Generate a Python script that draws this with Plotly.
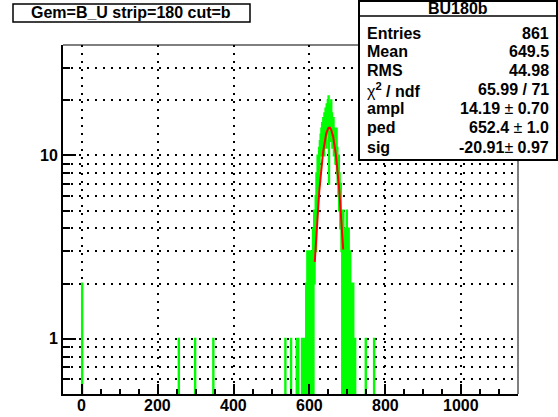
import numpy as np
import plotly.graph_objects as go

# ---- histogram BU180b: 1200 bins of width 1 on [-50, 1150) ----
hist_lo, hist_hi = -50, 1150

# isolated entries away from the peak (bin low edge -> count)
sparse_bins = [0, 255, 298, 346, 536, 551, 566, 570, 580, 582, 748, 770]
sparse_counts = [2, 1, 1, 1, 1, 1, 1, 1, 1, 1, 1, 1]

# consecutive bin contents of the signal peak, starting at bin 584
peak_start = 584
peak_counts = [
    1, 0, 1, 0, 1, 1, 0, 2, 0, 1, 3, 0, 1, 2, 0, 1,          # 584-599
    3, 0, 2, 1, 3, 0, 2, 3, 1, 4, 0, 3, 5, 2, 4, 3,          # 600-615
    6, 3, 8, 5, 7, 10, 6, 9, 8, 11, 7, 12, 10, 13, 11, 14,   # 616-631
    10, 15, 12, 11, 16, 13, 10, 17, 14, 12, 18, 15, 11, 19, 16, 13,  # 632-647
    20, 17, 21, 7, 19, 14, 18, 12, 16, 20, 13, 17, 11, 15, 12, 16,   # 648-663
    10, 14, 11, 13, 9, 12, 10, 14, 8, 11, 7, 9, 6, 10, 5, 8,  # 664-679
    6, 4, 7, 5, 3, 5, 0, 4, 2, 5, 1, 3, 0, 4, 2, 0,          # 680-695
    3, 1, 5, 0, 2, 3, 0, 4, 1, 2, 0, 3, 1, 0, 2, 1,          # 696-711
    0, 1, 0, 2, 0, 1, 0, 0, 1,                               # 712-720
]

# gaussian fit result
fit_ampl, fit_ped, fit_sig = 14.19, 652.4, -20.91
fit_lo, fit_hi = 614, 689

# axis labelling
x_ticks = [0, 200, 400, 600, 800, 1000]
y_ticks = [1, 10]
y_minor = [0.6, 0.7, 0.8, 0.9, 2, 3, 4, 5, 6, 7, 8, 9, 20, 30]

# title and statistics box
title_text = "Gem=B_U strip=180 cut=b"
stats_name = "BU180b"
stats_labels = ["Entries", "Mean", "RMS", "χ<sup>2</sup> / ndf", "ampl", "ped", "sig"]
stats_values = ["861", "649.5", "44.98", "65.99 / 71",
                "14.19 ± 0.70", "652.4 ± 1.0", "-20.91± 0.97"]

# ---- build the bin array ----
nbins = hist_hi - hist_lo
counts = np.zeros(nbins)
for b, c in zip(sparse_bins, sparse_counts):
    counts[b - hist_lo] = c
for i, c in enumerate(peak_counts):
    counts[peak_start + i - hist_lo] = c

edges = np.arange(hist_lo, hist_hi + 1)
# empty bins sit below the visible log range so their edges run off the frame
y_draw = np.where(counts > 0, counts, 0.05)
x_step = edges
y_step = np.append(y_draw, y_draw[-1])

fx_fit = np.linspace(fit_lo, fit_hi, 200)
fy_fit = fit_ampl * np.exp(-0.5 * ((fx_fit - fit_ped) / fit_sig) ** 2)

FONT = "Liberation Sans"
GREEN = "#00ff00"

fig = go.Figure()
fig.add_trace(go.Scatter(
    x=x_step, y=y_step, mode="lines",
    line=dict(color=GREEN, width=2, shape="hv", simplify=False),
    hoverinfo="skip", showlegend=False,
))
fig.add_trace(go.Scatter(
    x=fx_fit, y=fy_fit, mode="lines",
    line=dict(color="#ff0000", width=2),
    hoverinfo="skip", showlegend=False,
))

# plot frame in pixels
L, R, T, B = 63, 518, 45, 394
PW, PH = R - L, B - T


def px_x(p):
    return (p - L) / PW


def px_y(p):
    return (B - p) / PH


grid_dash = "2px,6px"
fig.update_xaxes(
    range=[hist_lo, hist_hi], automargin=False,
    tickmode="array", tickvals=x_ticks, showticklabels=False,
    ticks="inside", ticklen=10, tickwidth=1.5, tickcolor="black",
    minor=dict(dtick=50, tick0=0, ticks="inside", ticklen=5, tickwidth=1.5,
               tickcolor="black", showgrid=False),
    showgrid=True, gridcolor="black", gridwidth=1.6, griddash=grid_dash,
    showline=True, linecolor="black", linewidth=2,
    zeroline=False,
)
fig.update_yaxes(
    type="log", range=[np.log10(0.5), np.log10(40)], automargin=False,
    tickmode="array", tickvals=y_ticks, ticktext=[str(v) for v in y_ticks],
    ticks="inside", ticklen=13, tickwidth=1.5, tickcolor="black",
    minor=dict(tickmode="array", tickvals=y_minor, ticks="inside", ticklen=7,
               tickwidth=1.5, tickcolor="black", showgrid=True,
               gridcolor="black", gridwidth=1.6, griddash=grid_dash),
    showgrid=True, gridcolor="black", gridwidth=1.6, griddash=grid_dash,
    showline=True, linecolor="black", linewidth=2,
    zeroline=False,
    tickfont=dict(family=FONT, size=16, color="black", weight="bold"),
)

shapes = [
    # thin top and right frame edges
    dict(type="line", xref="paper", yref="paper", x0=0, x1=1, y0=1, y1=1,
         line=dict(color="black", width=1)),
    dict(type="line", xref="paper", yref="paper", x0=1, x1=1, y0=0, y1=1,
         line=dict(color="black", width=1)),
    # title box
    dict(type="rect", xref="paper", yref="paper",
         x0=px_x(13), x1=px_x(250), y0=px_y(22), y1=px_y(4),
         line=dict(color="black", width=1.5), fillcolor="white", layer="above"),
    # statistics box
    dict(type="rect", xref="paper", yref="paper",
         x0=px_x(359), x1=px_x(557), y0=px_y(160), y1=px_y(1),
         line=dict(color="black", width=2), fillcolor="white", layer="above"),
    dict(type="line", xref="paper", yref="paper",
         x0=px_x(359), x1=px_x(557), y0=px_y(16), y1=px_y(16),
         line=dict(color="black", width=1.5), layer="above"),
]

annotations = [
    dict(text=f"<b>{title_text}</b>", xref="paper", yref="paper",
         x=px_x(131), y=px_y(13), xanchor="center", yanchor="middle",
         showarrow=False, font=dict(family=FONT, size=16, color="black")),
    dict(text=f"<b>{stats_name}</b>", xref="paper", yref="paper",
         x=px_x(458), y=px_y(9), xanchor="center", yanchor="middle",
         showarrow=False, font=dict(family=FONT, size=16, color="black")),
]
# x tick labels placed just under the axis
for v in x_ticks:
    annotations.append(dict(text=f"<b>{v}</b>", xref="x", yref="paper",
                            x=v, y=px_y(405), xanchor="center", yanchor="middle",
                            showarrow=False,
                            font=dict(family=FONT, size=16, color="black")))

row_y0, row_dy = 33, 19
for i, (lab, val) in enumerate(zip(stats_labels, stats_values)):
    yy = px_y(row_y0 + i * row_dy)
    if lab.startswith("χ"):
        lab_txt = "χ<b><sup>2</sup> / ndf</b>"
    else:
        lab_txt = f"<b>{lab}</b>"
    if "±" in val:
        a, b = val.split("±")
        val_txt = f"<b>{a}</b>±<b>{b}</b>"
    else:
        val_txt = f"<b>{val}</b>"
    annotations.append(dict(text=lab_txt, xref="paper", yref="paper",
                            x=px_x(365), y=yy, xanchor="left", yanchor="middle",
                            showarrow=False,
                            font=dict(family=FONT, size=16, color="black")))
    annotations.append(dict(text=val_txt, xref="paper", yref="paper",
                            x=px_x(551), y=yy, xanchor="right", yanchor="middle",
                            showarrow=False,
                            font=dict(family=FONT, size=16, color="black")))

fig.update_layout(
    width=558, height=417, autosize=False,
    margin=dict(l=L, r=558 - R, t=T, b=417 - B, pad=0),
    paper_bgcolor="white", plot_bgcolor="white",
    shapes=shapes, annotations=annotations,
    showlegend=False,
)

fig.write_html("out.html")
